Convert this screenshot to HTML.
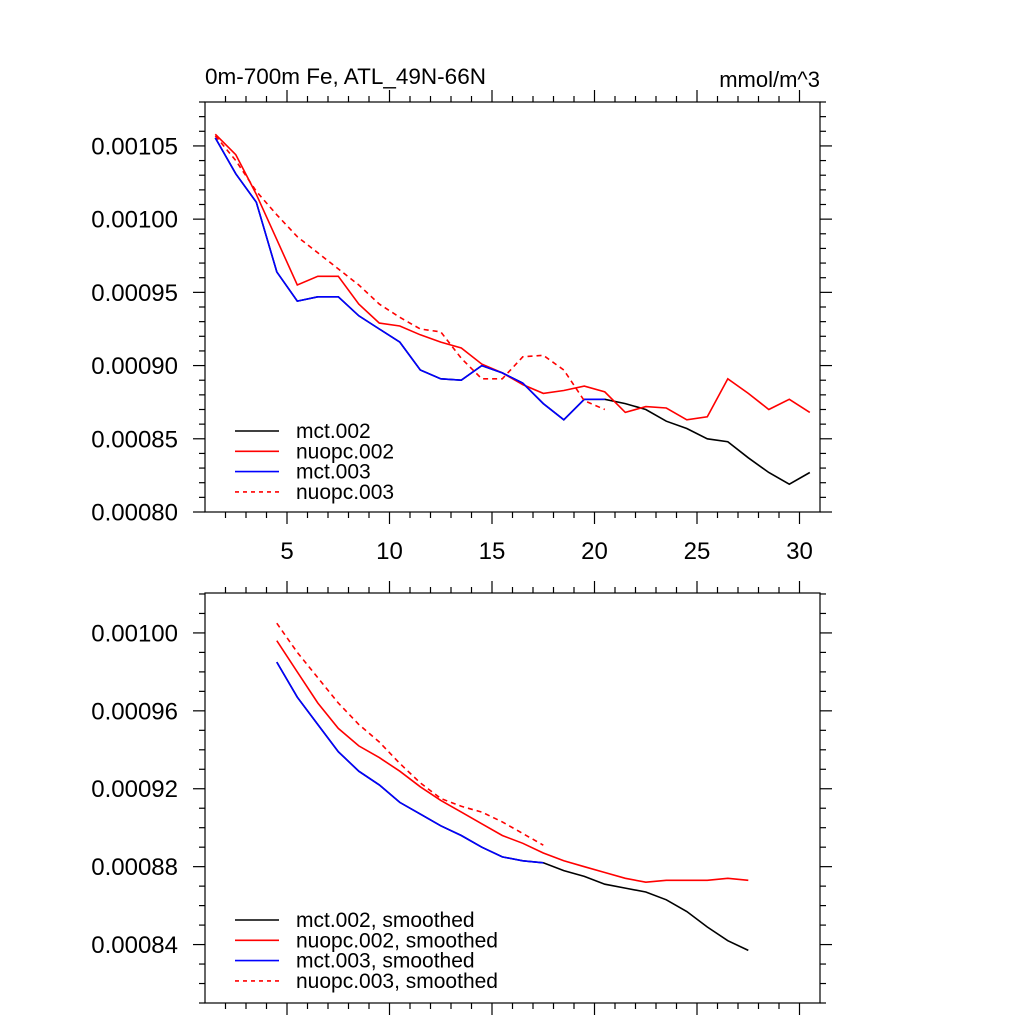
<!DOCTYPE html>
<html><head><meta charset="utf-8"><style>
html,body{margin:0;padding:0;background:#fff}
svg{display:block}
text{font-family:"Liberation Sans",sans-serif;fill:#000}
</style></head><body>
<svg id="chart" width="1024" height="1024" xmlns="http://www.w3.org/2000/svg"></svg>
<script>
// ---- data ----
const topX = [1.5,2.5,3.5,4.5,5.5,6.5,7.5,8.5,9.5,10.5,11.5,12.5,13.5,14.5,15.5,16.5,17.5,18.5,19.5,20.5,21.5,22.5,23.5,24.5,25.5,26.5,27.5,28.5,29.5,30.5];
const topMct002 = [0.0010555,0.001031,0.0010116,0.000964,0.000944,0.000947,0.000947,0.000934,0.000925,0.000916,0.000897,0.000891,0.00089,0.0009,0.000895,0.000888,0.000874,0.000863,0.000877,0.000877,0.000874,0.00087,0.000862,0.000857,0.00085,0.000848,0.000837,0.000827,0.000819,0.000827];
const topNuopc002 = [0.001058,0.001044,0.001017,0.000986,0.000955,0.000961,0.000961,0.000942,0.000929,0.000927,0.000921,0.000916,0.000912,0.000901,0.000895,0.000887,0.000881,0.000883,0.000886,0.000882,0.000868,0.000872,0.000871,0.000863,0.000865,0.000891,0.000881,0.00087,0.000877,0.000868];
const topMct003 = [0.0010555,0.001031,0.0010116,0.000964,0.000944,0.000947,0.000947,0.000934,0.000925,0.000916,0.000897,0.000891,0.00089,0.0009,0.000895,0.000888,0.000874,0.000863,0.000877,0.000877];
const topNuopc003 = [0.001057,0.00104,0.001019,0.001003,0.000988,0.000977,0.000966,0.000955,0.000942,0.000933,0.000925,0.000923,0.000905,0.000891,0.000891,0.000906,0.000907,0.000897,0.000876,0.00087];
const botX = [4.5,5.5,6.5,7.5,8.5,9.5,10.5,11.5,12.5,13.5,14.5,15.5,16.5,17.5,18.5,19.5,20.5,21.5,22.5,23.5,24.5,25.5,26.5,27.5];
const botMct002 = [0.000985,0.000967,0.000953,0.000939,0.000929,0.000922,0.000913,0.000907,0.000901,0.000896,0.00089,0.000885,0.000883,0.000882,0.000878,0.000875,0.000871,0.000869,0.000867,0.000863,0.000857,0.000849,0.000842,0.000837];
const botNuopc002 = [0.000996,0.00098,0.000964,0.000951,0.000942,0.000936,0.000929,0.000921,0.000914,0.000908,0.000902,0.000896,0.000892,0.000887,0.000883,0.00088,0.000877,0.000874,0.000872,0.000873,0.000873,0.000873,0.000874,0.000873];
const botMct003 = [0.000985,0.000967,0.000953,0.000939,0.000929,0.000922,0.000913,0.000907,0.000901,0.000896,0.00089,0.000885,0.000883,0.000882];
const botNuopc003 = [0.001005,0.00099,0.000977,0.000964,0.000953,0.000944,0.000933,0.000923,0.000915,0.000911,0.000908,0.000903,0.000897,0.000891];
const xTickLabels = [5,10,15,20,25,30];
const topYTicks = ["0.00080","0.00085","0.00090","0.00095","0.00100","0.00105"];
const botYTicks = ["0.00084","0.00088","0.00092","0.00096","0.00100"];

const NS="http://www.w3.org/2000/svg";
const svg=document.getElementById('chart');
function el(tag,attrs,parent,txt){const e=document.createElementNS(NS,tag);for(const k in attrs)e.setAttribute(k,attrs[k]);if(txt!==undefined)e.textContent=txt;(parent||svg).appendChild(e);return e;}

const L=205,R=820,XMIN=1,XMAX=31;
const sx=v=>L+(v-XMIN)/(XMAX-XMIN)*(R-L);

function panel(name,T,B,YMIN,YMAX,yTicks,yMinorStep,showXLabels,series,legend,legendY){
  const g=el('g',{},svg);
  
  
  const sy=v=>B-(v-YMIN)/(YMAX-YMIN)*(B-T);
  const ax=el('g',{stroke:'#000','stroke-width':1.2,fill:'none'},g);
  
  
  el('rect',{x:L,y:T,width:R-L,height:B-T},ax);
  for(let x=2;x<=30;x++){
    const major=x%5===0, len=major?12:6, px=sx(x);
    el('line',{x1:px,y1:B,x2:px,y2:B+len},ax);
    el('line',{x1:px,y1:T,x2:px,y2:T-len},ax);
  }
  const yStart=Math.ceil(YMIN/yMinorStep-1e-6);
  for(let k=yStart;k*yMinorStep<=YMAX+1e-12;k++){
    const v=k*yMinorStep, py=sy(v);
    const major=yTicks.some(t=>Math.abs(parseFloat(t)-v)<1e-9), len=major?12:6;
    el('line',{x1:L,y1:py,x2:L-len,y2:py},ax);
    el('line',{x1:R,y1:py,x2:R+len,y2:py},ax);
  }
  yTicks.forEach(t=>{
    const tx=el('text',{x:L-27,y:sy(parseFloat(t))+8.5,'text-anchor':'end','font-size':24},g,t);
    
    
  });
  if(showXLabels){
    xTickLabels.forEach(t=>{
      const tx=el('text',{x:sx(t),y:B+47,'text-anchor':'middle','font-size':24},g,t);
      
      
    });
  }
  series.forEach(s=>{
    const pts=s.y.map((v,i)=>sx(s.x[i]).toFixed(1)+','+sy(v).toFixed(1)).join(' ');
    const p=el('polyline',{points:pts,fill:'none',stroke:s.c,'stroke-width':1.6,'stroke-dasharray':s.d?'5,4':'none'},g);
    
    
  });
  legend.forEach((s,i)=>{
    const y=legendY+i*20.3;
    const lg=el('g',{},g);
    
    
    el('line',{x1:235,y1:y,x2:279,y2:y,stroke:s.c,'stroke-width':1.6,'stroke-dasharray':s.d?'4,4':'none'},lg);
    el('text',{x:296,y:y+7,'font-size':21},lg,s.label);
  });
}

const topSeries=[
 {n:'line-mct-002',x:topX,y:topMct002,c:'#000',d:false,label:'mct.002'},
 {n:'line-nuopc-002',x:topX,y:topNuopc002,c:'#f00',d:false,label:'nuopc.002'},
 {n:'line-mct-003',x:topX,y:topMct003,c:'#00f',d:false,label:'mct.003'},
 {n:'line-nuopc-003',x:topX,y:topNuopc003,c:'#f00',d:true,label:'nuopc.003'}];
panel('top-panel',102,512,0.0008,0.00108,topYTicks,0.00001,true,topSeries,topSeries,431);

const botSeries=[
 {n:'line-mct-002-smoothed',x:botX,y:botMct002,c:'#000',d:false,label:'mct.002, smoothed'},
 {n:'line-nuopc-002-smoothed',x:botX,y:botNuopc002,c:'#f00',d:false,label:'nuopc.002, smoothed'},
 {n:'line-mct-003-smoothed',x:botX,y:botMct003,c:'#00f',d:false,label:'mct.003, smoothed'},
 {n:'line-nuopc-003-smoothed',x:botX,y:botNuopc003,c:'#f00',d:true,label:'nuopc.003, smoothed'}];
panel('bottom-panel',593,1003,0.00081,0.0010205,botYTicks,0.00001,false,botSeries,botSeries,920);

const t1=el('text',{x:205,y:84,'font-size':22.5},svg,'0m-700m Fe, ATL_49N-66N');


const t2=el('text',{x:820,y:87,'font-size':22,'text-anchor':'end'},svg,'mmol/m^3');


</script>
</body></html>
